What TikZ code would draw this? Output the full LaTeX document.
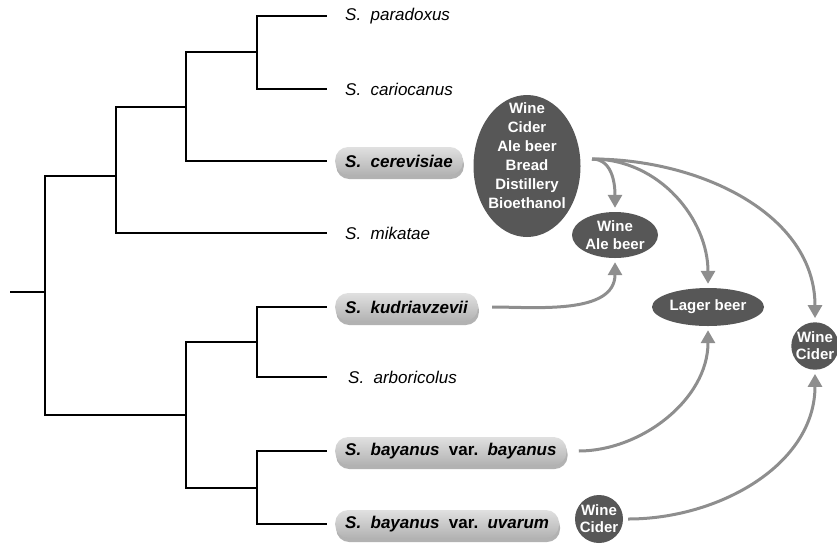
\documentclass[tikz,border=0pt]{standalone}
\usepackage{fontspec}
\setmainfont{Liberation Sans}
\usetikzlibrary{shapes.geometric,arrows.meta,shadows}
\definecolor{dark}{HTML}{575757}
\definecolor{arr}{HTML}{8E8E8E}
\newcommand{\gsp}{\hspace{0.55em}}
\begin{document}
\begin{tikzpicture}[x=1pt,y=-1pt,
  tree/.style={line width=1.3pt, draw=black},
  leaf/.style={anchor=west, font=\fontsize{17}{20}\selectfont\itshape, inner xsep=10pt, inner ysep=0pt, minimum height=28pt},
  pill/.style={leaf, font=\fontsize{17}{20}\selectfont\bfseries\itshape, rounded corners=13pt,
    top color=black!12, bottom color=black!30,
    drop shadow={shadow xshift=1pt, shadow yshift=-4pt, fill=black, opacity=0.3}},
  prod/.style={ellipse, fill=dark, text=white, font=\fontsize{15}{18}\selectfont\bfseries, align=center, inner sep=0pt},
  prodtext/.style={text=white, font=\fontsize{15}{19}\selectfont\bfseries, align=center, inner sep=0pt},
  flow/.style={draw=arr, line width=3pt, -{Triangle[length=13pt,width=14pt]}, shorten >=4pt}
]
\useasboundingbox (0,0) rectangle (837,547);

% leaves
\node[leaf] (par) at (335,16) {S.\gsp paradoxus};
\node[leaf] (car) at (335,89) {S.\gsp cariocanus};
\node[pill] (cer) at (335,161) {S.\gsp cerevisiae};
\node[leaf] (mik) at (335,233) {S.\gsp mikatae};
\node[pill] (kud) at (335,307) {S.\gsp kudriavzevii};
\node[leaf] (arb) at (338,377) {S.\gsp arboricolus};
\node[pill] (bay) at (335,451) {S.\gsp bayanus\gsp\textup{var.}\gsp bayanus};
\node[pill] (uva) at (335,524) {S.\gsp bayanus\gsp\textup{var.}\gsp uvarum};

% tree
\coordinate (r0) at (10,292);
\coordinate (R) at (45,292);
\coordinate (C) at (116,176);
\coordinate (B) at (186,107);
\coordinate (A) at (257,52);
\coordinate (D) at (186,415);
\coordinate (E) at (257,342);
\coordinate (F) at (257,488);
\draw[tree] (r0) -- (R);
\draw[tree] (R) |- (C);
\draw[tree] (R) |- (D);
\draw[tree] (C) |- (B);
\draw[tree, shorten >=8pt] (C) |- (mik.west);
\draw[tree] (B) |- (A);
\draw[tree, shorten >=8pt] (B) |- (cer.west);
\draw[tree, shorten >=8pt] (A) |- (par.west);
\draw[tree, shorten >=8pt] (A) |- (car.west);
\draw[tree] (D) |- (E);
\draw[tree] (D) |- (F);
\draw[tree, shorten >=8pt] (E) |- (kud.west);
\draw[tree, shorten >=11pt] (E) |- (arb.west);
\draw[tree, shorten >=8pt] (F) |- (bay.west);
\draw[tree, shorten >=8pt] (F) |- (uva.west);

% products
\node[prod, minimum width=107pt, minimum height=142pt] (Pcer) at (527,166) {};
\node[prodtext] (PcerT) at (527,156) {Wine\\Cider\\Ale beer\\Bread\\Distillery\\Bioethanol};
\node[prod, minimum width=86pt, minimum height=46pt] (Pwa) at (615,235) {Wine\\Ale beer};
\node[prod, minimum width=112pt, minimum height=38pt] (Plb) at (708,307) {Lager beer};
\node[prod, circle, minimum size=47pt, font=\fontsize{15}{17}\selectfont\bfseries] (Pwc) at (815,346) {Wine\\Cider};
\node[prod, circle, minimum size=48pt, font=\fontsize{15}{17}\selectfont\bfseries] (Puv) at (599,519) {Wine\\Cider};

% arrows
\coordinate (src) at (592,159);
\draw[flow] (src) to[out=0,in=90] (Pwa.north);
\draw[flow] (src) to[out=0,in=90] (Plb.north);
\draw[flow] (src) to[out=0,in=90] (Pwc.north);
\draw[flow, shorten <=14pt] (kud.east) to[out=0,in=-90] (Pwa.south);
\draw[flow, shorten <=12pt] (bay.east) to[out=0,in=-90] (Plb.south);
\draw[flow, shorten <=5pt] (Puv.east) to[out=0,in=-90] (Pwc.south);
\end{tikzpicture}
\end{document}
